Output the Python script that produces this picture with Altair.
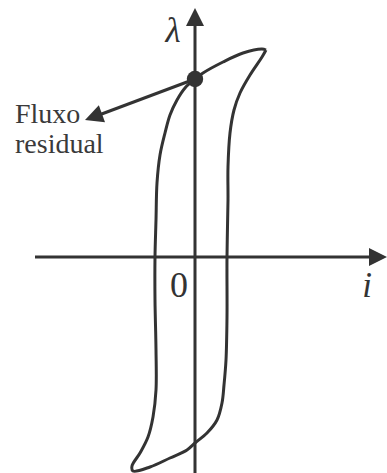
import altair as alt
import pandas as pd

INK = "#333333"
SERIF = "Liberation Serif"

# Hysteresis loop (current i, flux linkage lambda), traced from the upper-right tip:
# descending branch first, then the ascending branch back to the tip.
loop_i = [71, 67, 48, 28, 8, 0, -10, -18, -25, -30, -35, -38, -39, -40, -40, -39,
          -39, -42, -47, -55, -63, -62,
          -45, -25, -8, 0, 12, 22, 27, 29, 31, 32, 32, 33, 33, 35, 39, 45, 55, 67, 71]
loop_lam = [207, 208, 204, 195, 184, 178, 169, 157, 142, 124, 102, 74, 37, 0, -43, -93,
            -133, -160, -180, -196, -209, -214,
            -210, -201, -193, -186, -176, -163, -146, -128, -103, -60, 0, 57, 90, 124, 147,
            164, 182, 200, 207]

# Residual flux: where the descending branch crosses i = 0
residual_i = [0]
residual_lam = [178]

# Straight segments: i axis, lambda axis, leader from the label to the residual point
seg_id = ["i_axis", "i_axis", "lam_axis", "lam_axis", "leader", "leader"]
seg_i = [-160, 182, 0, 0, 0, -104]
seg_lam = [0, 0, -216, 232, 178, 139]

# Arrow heads (tip position and pointing direction, degrees clockwise from up)
head_i = [192, 0, -110]
head_lam = [0, 249, 137]
head_angle = [90, 0, 250]

# Text
italic_text = ["λ", "i"]
italic_i = [-22, 172]
italic_lam = [215, -40]

zero_text = ["0"]
zero_i = [-16]
zero_lam = [-40]

note_text = ["Fluxo", "residual"]
note_i = [-180, -180]
note_lam = [134, 104]

xs = alt.Scale(domain=[-195, 192], nice=False, zero=False)
ys = alt.Scale(domain=[-216, 257], nice=False, zero=False)


def xy():
    return dict(
        x=alt.X("i:Q", scale=xs, axis=None),
        y=alt.Y("lam:Q", scale=ys, axis=None),
    )


loop_df = pd.DataFrame({"i": loop_i, "lam": loop_lam, "k": range(len(loop_i))})
seg_df = pd.DataFrame({"i": seg_i, "lam": seg_lam, "seg": seg_id,
                       "k": range(len(seg_i))})
head_df = pd.DataFrame({"i": head_i, "lam": head_lam, "ang": head_angle})
dot_df = pd.DataFrame({"i": residual_i, "lam": residual_lam})
italic_df = pd.DataFrame({"i": italic_i, "lam": italic_lam, "t": italic_text})
zero_df = pd.DataFrame({"i": zero_i, "lam": zero_lam, "t": zero_text})
note_df = pd.DataFrame({"i": note_i, "lam": note_lam, "t": note_text})

segments = alt.Chart(seg_df).mark_line(color=INK, strokeWidth=3).encode(
    **xy(), detail="seg:N", order="k:Q"
)

loop = alt.Chart(loop_df).mark_line(
    color=INK, strokeWidth=3, interpolate="catmull-rom"
).encode(**xy(), order="k:Q")

# Arrow head shape with its tip at the anchor point
heads = alt.Chart(head_df).mark_point(
    shape="M0,0L-0.5,1L0.5,1Z", filled=True, color=INK, opacity=1, size=1300,
    strokeWidth=0
).encode(**xy(), angle=alt.Angle("ang:Q", scale=None))

dot = alt.Chart(dot_df).mark_circle(color=INK, opacity=1, size=270).encode(**xy())

italic_labels = alt.Chart(italic_df).mark_text(
    font=SERIF, fontStyle="italic", fontSize=35, color=INK,
    align="center", baseline="alphabetic"
).encode(**xy(), text="t:N")

zero_label = alt.Chart(zero_df).mark_text(
    font=SERIF, fontSize=36, color=INK, align="center", baseline="alphabetic"
).encode(**xy(), text="t:N")

note_labels = alt.Chart(note_df).mark_text(
    font=SERIF, fontSize=28, color="#3a3a3a", align="left", baseline="alphabetic"
).encode(**xy(), text="t:N")

chart = alt.layer(
    segments, loop, heads, dot, italic_labels, zero_label, note_labels
).properties(
    width=387, height=473, padding=0, autosize=alt.AutoSizeParams(type="none"),
    background="white"
).configure_view(stroke=None)

chart.save("out.html", embed_options={"renderer": "svg", "actions": False})
